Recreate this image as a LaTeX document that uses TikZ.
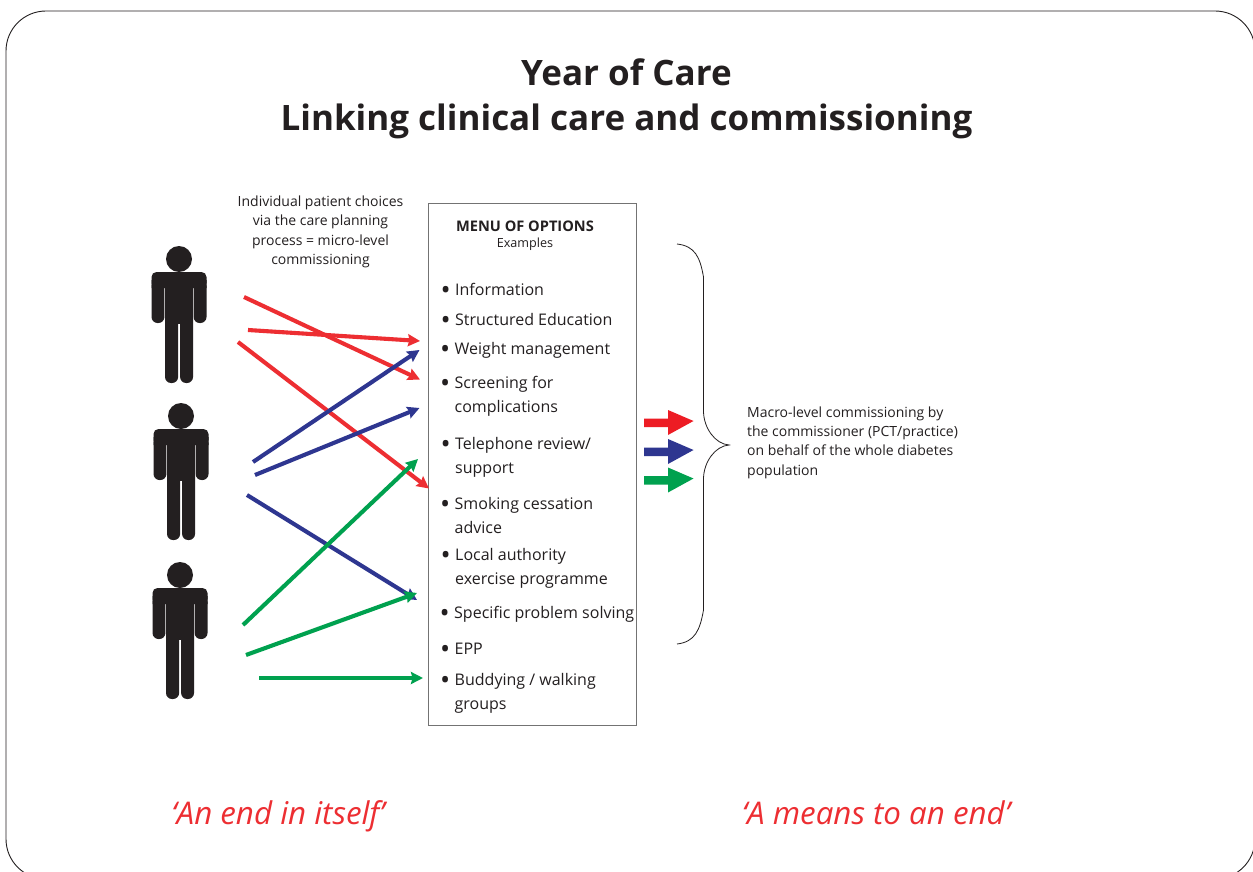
\documentclass[tikz,border=0pt]{standalone}
\usepackage{fontspec}
\setmainfont{Open Sans}
\usetikzlibrary{arrows.meta}
\definecolor{ink}{HTML}{231F20}
\definecolor{red1}{HTML}{ED2E32}
\definecolor{red2}{HTML}{ED1C24}
\definecolor{blue1}{HTML}{2E3690}
\definecolor{green1}{HTML}{00A14F}
\tikzset{
  opt/.style={anchor=west,inner sep=0pt,align=left,text=ink,font=\fontsize{16}{24}\selectfont},
  small/.style={inner sep=0pt,align=center,text=ink,font=\fontsize{14}{19.4}\selectfont},
  linkarrow/.style={line width=4.1pt,-{Stealth[length=12pt,width=12pt,inset=1.5pt]}},
  slogan/.style={inner sep=0pt,anchor=base,text=red1,font=\itshape\fontsize{31.3}{34}\selectfont},
  personfill/.style={fill=ink,draw=none},
}
\newcommand{\bul}{\makebox[13pt][l]{\hspace*{-1.5pt}\raisebox{-4pt}[0pt][0pt]{\fontsize{27}{27}\selectfont •}}}
\newcommand{\ind}{\hspace*{13pt}}
\newcommand{\personfig}[2]{%
 \begin{scope}[shift={(#1,#2)}]
  \fill[personfill] (0,-13) circle (13);
  \fill[personfill,rounded corners=6pt] (-27.5,8) -- (-27.5,51) -- (-14.6,51) -- (-14.6,8) -- cycle;
  \fill[personfill,rounded corners=6pt] (14.6,8) -- (14.6,51) -- (27.5,51) -- (27.5,8) -- cycle;
  \fill[personfill] (-27.5,8) rectangle (-14.6,16) (14.6,8) rectangle (27.5,16);
  \fill[personfill,rounded corners=5pt] (-27.5,0) rectangle (27.5,16);
  \fill[personfill] (-14,6) rectangle (14,52);
  \fill[personfill,rounded corners=6pt] (-14,40) rectangle (-0.9,111);
  \fill[personfill,rounded corners=6pt] (1.1,40) rectangle (14,111);
 \end{scope}}
\begin{document}
\begin{tikzpicture}[x=1pt,y=-1pt]
\useasboundingbox (0,0) rectangle (1253,872);
\clip (0,0) rectangle (1253,872);
\fill[white] (0,0) rectangle (1253,872);
\draw[ink,line width=0.9pt,rounded corners=40pt] (6,11) rectangle (1255,879);

\node[inner sep=0pt,align=center,text=ink,font=\bfseries\fontsize{35}{45}\selectfont] (title) at (626.5,99) {Year of Care\\Linking clinical care and commissioning};

\node[small] (choices) at (320.5,232) {Individual patient choices\\via the care planning\\process = micro-level\\commissioning};

\personfig{179}{272}
\personfig{181}{429}
\personfig{180}{588}
\coordinate (p1a) at (244,297);
\coordinate (p1b) at (248,330);
\coordinate (p1c) at (238,342);
\coordinate (p2a) at (253,462);
\coordinate (p2b) at (255,475);
\coordinate (p2c) at (247,495);
\coordinate (p3a) at (243,625);
\coordinate (p3b) at (246,655);
\coordinate (p3c) at (259,678);

\node[draw=black!55!white,line width=1pt,minimum width=208pt,minimum height=522pt,inner sep=0pt] (menu) at (532,464) {};
\node[inner sep=0pt,text=ink,font=\bfseries\fontsize{14.6}{18}\selectfont] (menuhead) at (525,226) {MENU OF OPTIONS};
\node[inner sep=0pt,text=ink,font=\fontsize{12.6}{16}\selectfont] (menuex) at (525,244) {Examples};

\node[opt] (o1) at (442,289) {\bul Information};
\node[opt] (o2) at (442,319) {\bul Structured Education};
\node[opt] (o3) at (441.5,350) {\bul Weight management};
\node[opt] (o4) at (441.5,396) {\bul Screening for\\\ind complications};
\node[opt] (o5) at (442,457) {\bul Telephone review/\\\ind support};
\node[opt] (o6) at (441.5,515) {\bul Smoking cessation\\\ind advice};
\node[opt] (o7) at (442,568) {\bul Local authority\\\ind exercise programme};
\node[opt] (o8) at (441,614) {\bul Specific problem solving};
\node[opt] (o9) at (441.5,649) {\bul EPP};
\node[opt] (o10) at (441.5,693) {\bul Buddying / walking\\\ind groups};

\coordinate (t1) at (420,341);
\coordinate (t2) at (420,379.5);
\coordinate (t3) at (419.5,350);
\coordinate (t4) at (419.5,408);
\coordinate (t5) at (418,459);
\coordinate (t6) at (429,488.5);
\coordinate (t7) at (417,600);
\coordinate (t8) at (417,593);
\coordinate (t9) at (423,678);

\draw[linkarrow,red1] (p1a) -- (t2);
\draw[linkarrow,red1] (p1b) -- (t1);
\draw[linkarrow,red1] (p1c) -- (t6);
\draw[linkarrow,blue1] (p2a) -- (t3);
\draw[linkarrow,blue1] (p2b) -- (t4);
\draw[linkarrow,blue1] (p2c) -- (t7);
\draw[linkarrow,green1] (p3a) -- (t5);
\draw[linkarrow,green1] (p3b) -- (t8);
\draw[linkarrow,green1] (p3c) -- (t9);

\fill[red2] (644,418.5) -- (668,418.5) -- (668,410) -- (693.5,421) -- (668,435) -- (668,427) -- (644,427) -- cycle;
\fill[blue1] (644,447.5) -- (668,447.5) -- (668,439) -- (693.5,450) -- (668,464) -- (668,456) -- (644,456) -- cycle;
\fill[green1] (644,476) -- (668,476) -- (668,467.5) -- (693.5,478.5) -- (668,492.5) -- (668,484.5) -- (644,484.5) -- cycle;

\draw[ink,line width=0.8pt] (677,244) .. controls (695,246) and (700,257) .. (703.5,277)
  -- (703.5,412) .. controls (704,428) and (715,444) .. (729,445)
  .. controls (715,446) and (704,462) .. (703.5,478)
  -- (703.5,610) .. controls (700,630) and (695,642) .. (677,644);

\node[inner sep=0pt,anchor=west,align=left,text=ink,font=\fontsize{14}{19.4}\selectfont] (macro) at (747,442.5) {Macro-level commissioning by\\the commissioner (PCT/practice)\\on behalf of the whole diabetes\\population};

\node[slogan] (s1) at (278,824) {‘An end in itself’};
\node[slogan] (s2) at (876,824) {‘A means to an end’};
\end{tikzpicture}
\end{document}
